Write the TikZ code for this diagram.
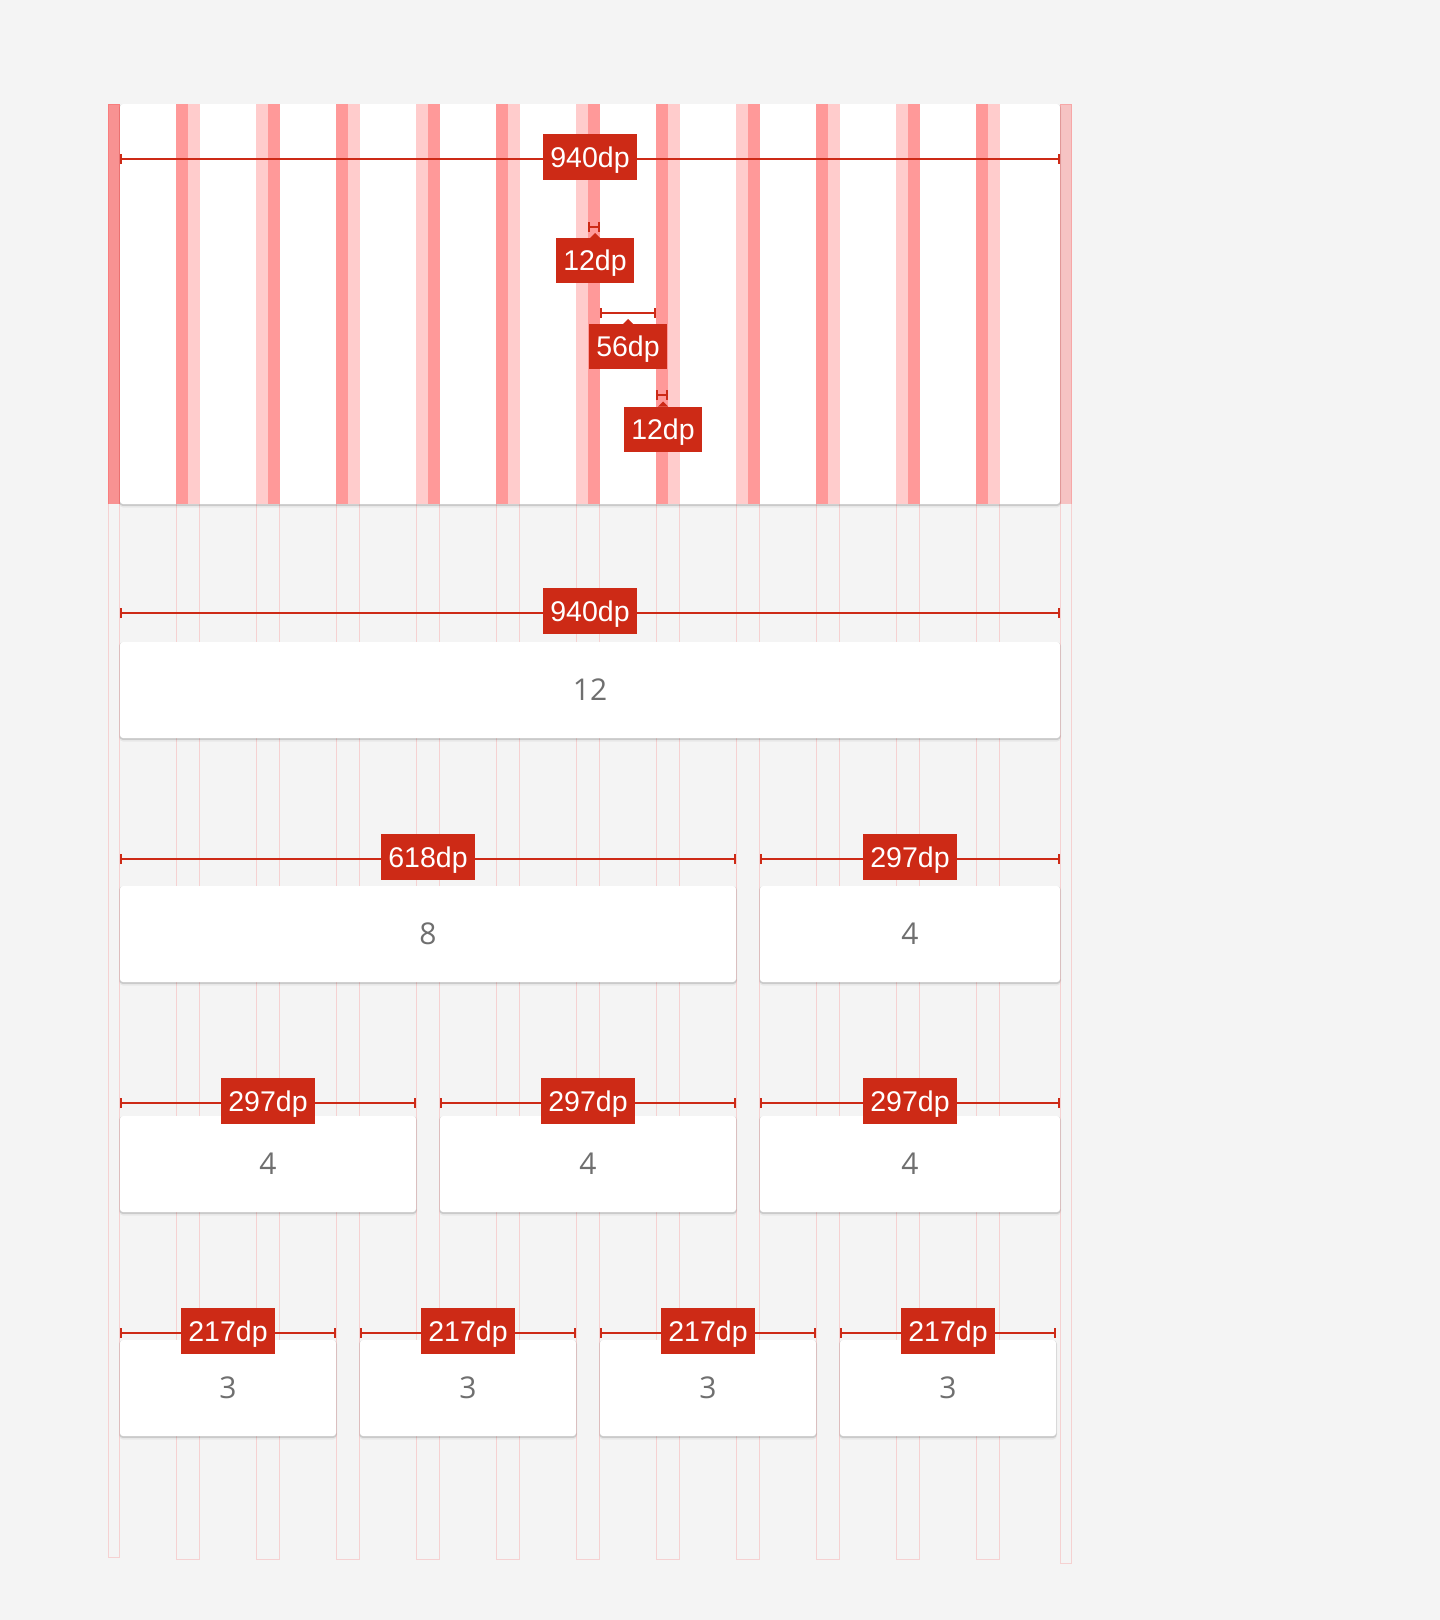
\documentclass[tikz,border=0pt]{standalone}
\usepackage{fontspec}
\setmainfont{Liberation Sans}
\newfontfamily\numfont{Open Sans}
\usetikzlibrary{arrows.meta}
\definecolor{bg}{HTML}{F4F4F4}
\definecolor{gridred}{HTML}{FF0000}
\definecolor{labelred}{HTML}{CD2A16}
\definecolor{numgrey}{HTML}{6F6F6F}
\tikzset{
  dimlabel/.style={fill=labelred, text=white, font=\fontsize{28.5}{31}\selectfont,
    inner xsep=7.4pt, inner ysep=0pt, minimum height=46pt, text height=20.4pt, text depth=0pt, outer sep=0pt},
  dimline/.style={draw=labelred, line width=2pt, {Bar[width=10pt]}-{Bar[width=10pt]}},
  smallline/.style={draw=labelred, line width=1.6pt, {Bar[width=10pt]}-{Bar[width=10pt]}},
  cardbox/.style={fill=white, rounded corners=3pt, inner sep=0pt, outer sep=0pt,
    text=numgrey, font=\numfont\fontsize{30}{34}\selectfont},
  stripout/.style={draw=gridred, draw opacity=0.14, line width=1pt},
  darkstrip/.style={fill=gridred, fill opacity=0.4},
  lightstrip/.style={fill=gridred, fill opacity=0.2},
}
\newcommand\gcard[6]{%
  \fill[black,opacity=.05,rounded corners=4pt] (#2-1,#3) rectangle (#4+1,#5+3.5);
  \fill[black,opacity=.12,rounded corners=3pt] (#2-0.5,#3+0.5) rectangle (#4+0.5,#5+1.8);
  \node[cardbox, minimum width=#4-#2, minimum height=#5-#3] (#1) at ({(#2+#4)/2},{(#3+#5)/2}) {#6};
}
\newcommand\dimspan[5]{%
  \coordinate (#1-l) at (#2,#4);
  \coordinate (#1-r) at (#3,#4);
  \draw[dimline] (#1-l) -- (#1-r);
  \node[dimlabel] (#1) at ({(#2+#3)/2},#4-2) {#5};
}
\newcommand\ptrspan[6]{% name x1 x2 y label boxcentre
  \coordinate (#1-l) at (#2,#4);
  \coordinate (#1-r) at (#3,#4);
  \draw[smallline] (#1-l) -- (#1-r);
  \node[dimlabel, minimum height=45pt] (#1) at (#6) {#5};
  \fill[labelred] (#1.north) ++(-5,0) -- ++(5,-5) -- ++(5,5) -- cycle;
}
\begin{document}
\begin{tikzpicture}[x=1pt,y=-1pt]
\fill[bg] (0,0) rectangle (1440,1620);
\useasboundingbox (0,0) rectangle (1440,1620);
% faint outlines of margins and gutters
\draw[stripout] (108.5,104) rectangle (119.5,1557);
\foreach \i in {0,...,10} {
  \draw[stripout] (176.5+80*\i,104) rectangle (199.5+80*\i,1559);
}
\draw[stripout] (1060.5,104) rectangle (1071.5,1563);
% top card with columns
\gcard{topcard}{120}{104}{1060}{504}{}
\fill[darkstrip] (108,104) rectangle (120,504);
\fill[lightstrip] (1060,104) rectangle (1072,504);
\foreach \i in {0,...,10} {
  \ifodd\i
    \fill[lightstrip] (176+80*\i,104) rectangle (188+80*\i,504);
    \fill[darkstrip] (188+80*\i,104) rectangle (200+80*\i,504);
  \else
    \fill[darkstrip] (176+80*\i,104) rectangle (188+80*\i,504);
    \fill[lightstrip] (188+80*\i,104) rectangle (200+80*\i,504);
  \fi
}
\dimspan{d940a}{120}{1060}{159}{940dp}
\ptrspan{gutA}{588}{600}{227}{12dp}{595,260.5}
\ptrspan{colA}{600}{656}{313}{56dp}{628,346.5}
\ptrspan{gutB}{656}{668}{395}{12dp}{663,429}
% row 12
\gcard{c12}{120}{642}{1060}{738}{12}
\dimspan{d940b}{120}{1060}{613}{940dp}
% row 8 + 4
\gcard{c8}{120}{886}{736}{982}{8}
\gcard{c4a}{760}{886}{1060}{982}{4}
\dimspan{d618}{120}{736}{859}{618dp}
\dimspan{d297a}{760}{1060}{859}{297dp}
% row 4 4 4
\gcard{c4b}{120}{1116}{416}{1212}{4}
\gcard{c4c}{440}{1116}{736}{1212}{4}
\gcard{c4d}{760}{1116}{1060}{1212}{4}
\dimspan{d297b}{120}{416}{1103}{297dp}
\dimspan{d297c}{440}{736}{1103}{297dp}
\dimspan{d297d}{760}{1060}{1103}{297dp}
% row 3 3 3 3
\gcard{c3a}{120}{1340}{336}{1436}{3}
\gcard{c3b}{360}{1340}{576}{1436}{3}
\gcard{c3c}{600}{1340}{816}{1436}{3}
\gcard{c3d}{840}{1340}{1056}{1436}{3}
\dimspan{d217a}{120}{336}{1333}{217dp}
\dimspan{d217b}{360}{576}{1333}{217dp}
\dimspan{d217c}{600}{816}{1333}{217dp}
\dimspan{d217d}{840}{1056}{1333}{217dp}
\end{tikzpicture}
\end{document}
